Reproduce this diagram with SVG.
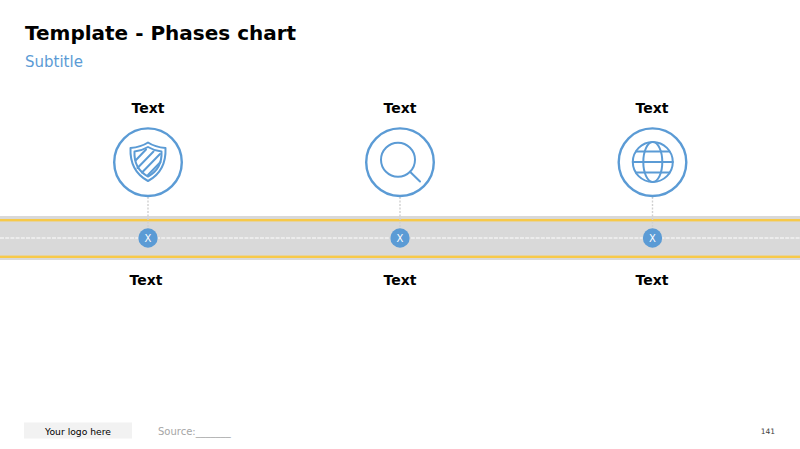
<svg xmlns="http://www.w3.org/2000/svg" width="800" height="449" viewBox="0 0 800 449">
<style>
text{font-family:"DejaVu Sans",Verdana,sans-serif}
.h{font-size:14px;font-weight:700;fill:#000;text-anchor:middle}
.ring{fill:#fff;stroke:#5b9bd5;stroke-width:2.4}
.ic{fill:none;stroke:#5b9bd5;stroke-width:2;stroke-linejoin:round;stroke-linecap:round}
.dot{fill:#5b9bd5}
.x{font-size:10px;fill:#fff;text-anchor:middle}
.lead{stroke:#d0d0d0;stroke-width:1.4;stroke-dasharray:2 1.5;fill:none}
</style>
<rect width="800" height="449" fill="#fff"/>
<text x="25" y="40" font-size="20" font-weight="700" fill="#000">Template - Phases chart</text>
<text x="25" y="67" font-size="15" fill="#5b9bd5">Subtitle</text>
<g id="road">
<rect x="0" y="216" width="800" height="44" fill="#d9d9d9"/>
<rect x="0" y="219" width="800" height="2.4" fill="#f7c948"/>
<rect x="0" y="255.600" width="800" height="2.4" fill="#f7c948"/>
<line x1="0" y1="238" x2="800" y2="238" stroke="#f2f2f2" stroke-width="1.6" stroke-dasharray="4 1.2"/>
</g>
<g id="connectors">
<line class="lead" x1="148" y1="197" x2="148" y2="238"/>
<line class="lead" x1="400" y1="197" x2="400" y2="238"/>
<line class="lead" x1="652.500" y1="197" x2="652.500" y2="238"/>
</g>
<g id="phase1">
<text class="h" x="148" y="113">Text</text>
<circle class="ring" cx="148" cy="162.200" r="33.800"/>
<path class="ic" d="M148 142.500 C154 146.500 159 147.500 165.500 148 C166 160 163 173 148 181 C133 173 130 160 130.500 148 C137 147.500 142 146.500 148 142.500Z"/>
<path class="ic" d="M148 147 C153 150 157 151 161.500 151.500 C162 161 159 170.500 148 176.500 C137 170.500 134 161 134.500 151.500 C139 151 143 150 148 147Z"/>
<path class="ic" d="M136 160 L146 149.500 M137.500 168 L153.500 151.500 M142 172.500 L160 154 M148 175 L160.500 162"/>
<circle class="dot" cx="148" cy="238" r="9.700"/>
<text class="x" x="148" y="241.500">X</text>
<text class="h" x="146" y="285">Text</text>
</g>
<g id="phase2">
<text class="h" x="400" y="113">Text</text>
<circle class="ring" cx="400" cy="162.200" r="33.800"/>
<circle class="ic" cx="398" cy="159.700" r="17"/>
<line class="ic" x1="410" y1="171.700" x2="420" y2="181.500"/>
<circle class="dot" cx="400" cy="238" r="9.700"/>
<text class="x" x="400" y="241.500">X</text>
<text class="h" x="400" y="285">Text</text>
</g>
<g id="phase3">
<text class="h" x="652" y="113">Text</text>
<circle class="ring" cx="652.500" cy="162.200" r="33.800"/>
<circle class="ic" cx="652.800" cy="162" r="20"/>
<ellipse class="ic" cx="652.800" cy="162" rx="9.500" ry="20"/>
<path class="ic" d="M636 151.500 H669.500 M632.800 162 H672.800 M636 172.500 H669.500"/>
<circle class="dot" cx="652.500" cy="238" r="9.700"/>
<text class="x" x="652.500" y="241.500">X</text>
<text class="h" x="652" y="285">Text</text>
</g>
<g id="footer">
<rect x="24" y="422.500" width="108" height="16" fill="#f2f2f2"/>
<text x="78" y="434.500" font-size="9.200" fill="#000" text-anchor="middle">Your logo here</text>
<text x="158" y="434.500" font-size="10" fill="#a6a6a6">Source:_______</text>
<text x="768" y="434" font-size="7.500" fill="#404040" text-anchor="middle">141</text>
</g>
</svg>
